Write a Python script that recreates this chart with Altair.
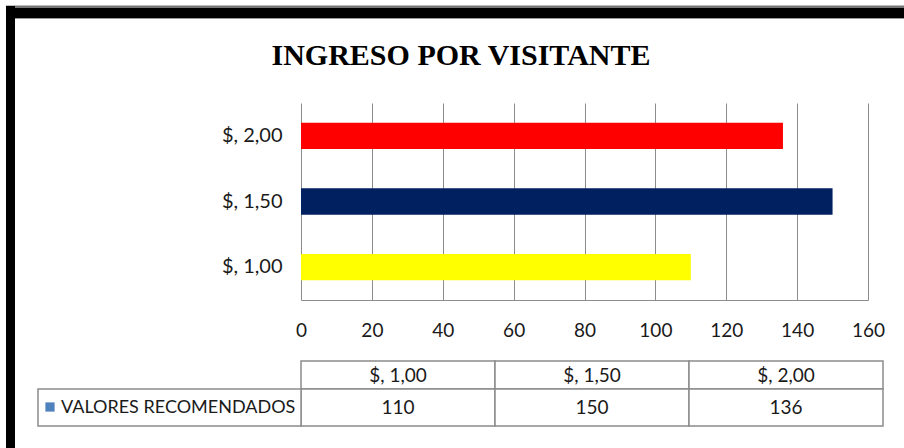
import altair as alt
import pandas as pd

# ---- data ----
title_text = ["INGRESO POR VISITANTE"]
categories = ["$, 1,00", "$, 1,50", "$, 2,00"]
values = [110, 150, 136]
bar_colors = ["#FFFF00", "#002060", "#FF0000"]
series_name = ["VALORES RECOMENDADOS"]
legend_color = "#4F81BD"
x_ticks = [0, 20, 40, 60, 80, 100, 120, 140, 160]

df = pd.DataFrame({"cat": categories, "val": values, "col": bar_colors})
one = pd.DataFrame({"k": [0]})
FONT = "Lato"
GRID = "#8c8c8c"

W, H = 567, 197

bars = alt.Chart(df).mark_bar().encode(
    x=alt.X("val:Q", scale=alt.Scale(domain=[0, 160], nice=False),
            axis=alt.Axis(values=x_ticks, title=None, grid=True, gridColor=GRID,
                          domain=True, domainColor=GRID, ticks=False, tickSize=0,
                          labelFlush=False, labelPadding=21, labelFontSize=19,
                          labelFont=FONT, labelColor="#1a1a1a")),
    y=alt.Y("cat:N", sort=categories[::-1],
            scale=alt.Scale(paddingInner=0.6, paddingOuter=0.3),
            axis=alt.Axis(title=None, domain=False, ticks=False, tickSize=0,
                          labelPadding=19, labelFontSize=20, labelFont=FONT,
                          labelColor="#1a1a1a")),
    color=alt.Color("col:N", scale=None),
)

# ---- data table below the chart ----
def tx():
    return alt.X("cat:N", sort=categories,
                 scale=alt.Scale(range=[0, 582], paddingInner=0, paddingOuter=0),
                 axis=None)

hdr_cells = alt.Chart(df).mark_rect(fill="white", stroke=GRID, strokeWidth=1.5).encode(
    x=tx(), y=alt.value(258), y2=alt.value(286))
val_cells = alt.Chart(df).mark_rect(fill="white", stroke=GRID, strokeWidth=1.5).encode(
    x=tx(), y=alt.value(286), y2=alt.value(323))
hdr_text = alt.Chart(df).mark_text(font=FONT, fontSize=19, color="#1a1a1a",
                                   baseline="middle").encode(
    x=alt.X("cat:N", sort=categories,
            scale=alt.Scale(range=[0, 582], paddingInner=0, paddingOuter=0), axis=None,
            bandPosition=0.5),
    y=alt.value(273), text="cat:N")
val_text = alt.Chart(df).mark_text(font=FONT, fontSize=19, color="#1a1a1a",
                                   baseline="middle").encode(
    x=alt.X("cat:N", sort=categories,
            scale=alt.Scale(range=[0, 582], paddingInner=0, paddingOuter=0), axis=None,
            bandPosition=0.5),
    y=alt.value(305), text="val:Q")

leg_df = pd.DataFrame({"name": series_name})
leg_cell = alt.Chart(leg_df).mark_rect(fill="white", stroke=GRID, strokeWidth=1.5).encode(
    x=alt.value(-263), x2=alt.value(0), y=alt.value(286), y2=alt.value(323))
leg_sq = alt.Chart(leg_df).mark_square(size=85, color=legend_color, opacity=1).encode(
    x=alt.value(-251), y=alt.value(304))
leg_text = alt.Chart(leg_df).mark_text(font=FONT, fontSize=18, color="#1a1a1a",
                                        align="left", baseline="middle").encode(
    x=alt.value(-240), y=alt.value(305), text="name:N")

# ---- title ----
title = alt.Chart(pd.DataFrame({"t": title_text})).mark_text(
    font="Liberation Serif", fontSize=30, fontWeight="bold", color="#000",
    align="center", baseline="middle").encode(
    x=alt.value(160), y=alt.value(-47), text="t:N")

# ---- frame ----
frame_top_edge = alt.Chart(one).mark_rule(color="#777", strokeWidth=3).encode(
    x=alt.value(-295), x2=alt.value(603), y=alt.value(-96))
frame_top = alt.Chart(one).mark_rule(color="#000", strokeWidth=10).encode(
    x=alt.value(-295), x2=alt.value(603), y=alt.value(-90))
frame_top_line = alt.Chart(one).mark_rule(color="#999", strokeWidth=1).encode(
    x=alt.value(-286), x2=alt.value(603), y=alt.value(-84.5))
frame_left = alt.Chart(one).mark_rule(color="#000", strokeWidth=9).encode(
    x=alt.value(-290.5), y=alt.value(-97), y2=alt.value(345))

chart = alt.layer(
    bars, hdr_cells, val_cells, hdr_text, val_text, leg_cell, leg_sq, leg_text,
    title, frame_top_edge, frame_top, frame_top_line, frame_left
).resolve_scale(x="independent", y="independent", color="independent").properties(
    width=W, height=H,
    autosize=alt.AutoSizeParams(type="none"),
    padding={"left": 301, "top": 103, "right": 36, "bottom": 148},
    background="white",
).configure_view(stroke=None)

chart.save("out.html", embed_options={"renderer": "svg", "actions": False})
